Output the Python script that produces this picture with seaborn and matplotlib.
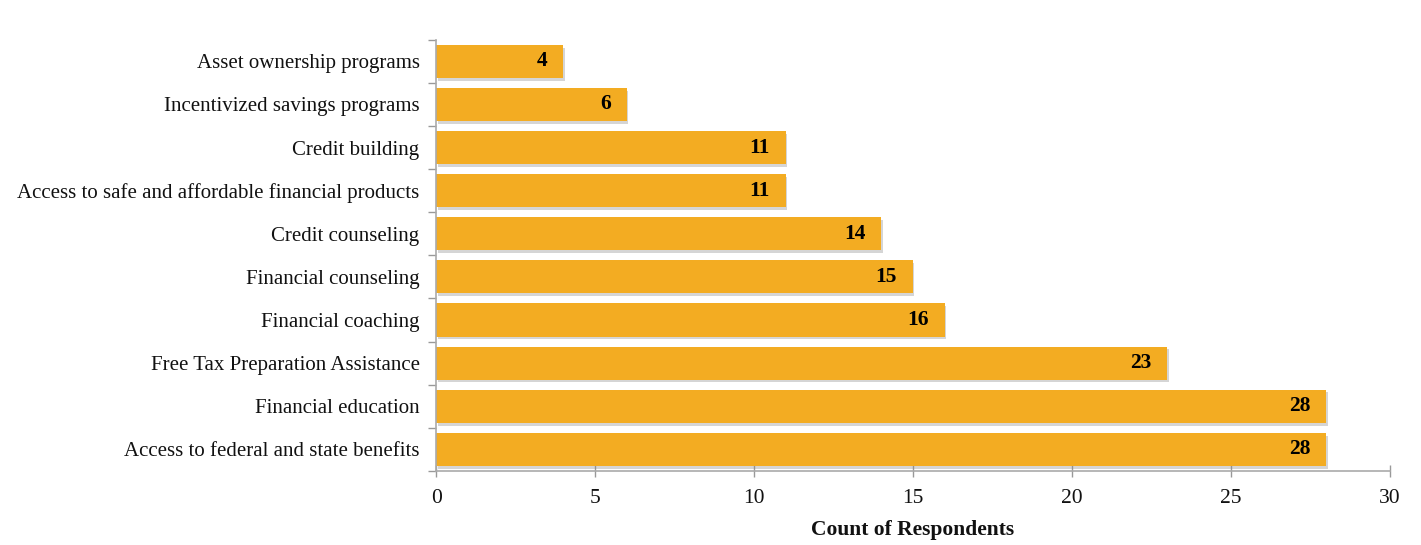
import matplotlib
matplotlib.use("Agg")
import matplotlib.pyplot as plt
import matplotlib.patheffects as pe
import seaborn as sns
import pandas as pd
from matplotlib.ticker import MultipleLocator, FixedLocator

# Données
categories = [
    "Asset ownership programs",
    "Incentivized savings programs",
    "Credit building",
    "Access to safe and affordable financial products",
    "Credit counseling",
    "Financial counseling",
    "Financial coaching",
    "Free Tax Preparation Assistance",
    "Financial education",
    "Access to federal and state benefits",
]
counts = [4, 6, 11, 11, 14, 15, 16, 23, 28, 28]

df = pd.DataFrame({"categorie": categories, "count": counts})

sns.set_theme(style="white")
plt.rcParams["font.family"] = ["Liberation Serif", "DejaVu Serif"]
plt.rcParams["text.color"] = "#111111"
plt.rcParams["xtick.labelcolor"] = "#111111"
plt.rcParams["ytick.labelcolor"] = "#111111"

fig = plt.figure(figsize=(14.21, 5.45), dpi=100)
ax = fig.add_axes([0.307, 0.136, 0.671, 0.791])

bar_color = "#F3AC22"
sns.barplot(data=df, x="count", y="categorie", color=bar_color, saturation=1,
            width=0.77, ax=ax, linewidth=0)

# petite ombre sous les barres comme sur l'original
for p in ax.patches:
    p.set_path_effects([pe.SimplePatchShadow(offset=(1, -2), shadow_rgbFace="#888888", alpha=0.35),
                        pe.Normal()])

# étiquettes des valeurs dans les barres
for i, v in enumerate(counts):
    ax.text(v - 0.5, i, str(v), ha="right", va="center",
            fontsize=15.5, fontweight="bold", color="black")

ax.set_xlim(0, 30)
ax.set_ylim(9.5, -0.5)
ax.xaxis.set_major_locator(MultipleLocator(5))
ax.set_xlabel("Count of Respondents", fontsize=15.5, fontweight="bold", labelpad=9,
              color="#111111")
ax.set_ylabel("")

# ticks y entre les catégories
ax.yaxis.set_minor_locator(FixedLocator([i - 0.5 for i in range(len(categories) + 1)]))
ax.tick_params(axis="y", which="major", length=0, labelsize=15, pad=12)
ax.tick_params(axis="y", which="minor", length=6, color="#999999", width=1, left=True)
ax.tick_params(axis="x", which="major", length=8, direction="inout", color="#999999",
               width=1, labelsize=15.5, pad=9, bottom=True)

for s in ["top", "right"]:
    ax.spines[s].set_visible(False)
for s in ["left", "bottom"]:
    ax.spines[s].set_color("#aaaaaa")
    ax.spines[s].set_linewidth(1.2)

fig.savefig("out.png", dpi=100, facecolor="white")
